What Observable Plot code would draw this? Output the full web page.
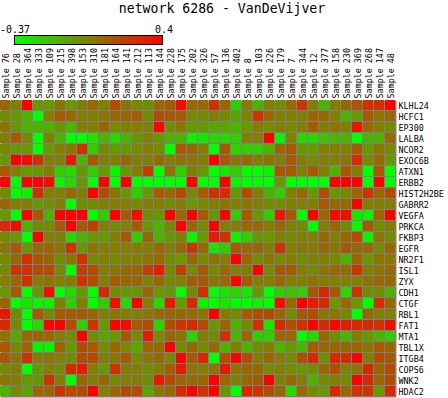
<!DOCTYPE html>
<html><head><meta charset="utf-8">
<script src="https://cdn.jsdelivr.net/npm/d3@7"></script>
<script src="https://cdn.jsdelivr.net/npm/@observablehq/plot@0.6"></script>
<style>body{margin:0;background:#fff} #chart{width:448px;height:398px}</style>
</head><body><div id="chart"></div>
<script>
const title = "network 6286 - VanDeVijver";
const colorMin = -0.37, colorMax = 0.4;
const samples = ["Sample 76","Sample 28","Sample 364","Sample 333","Sample 109","Sample 215","Sample 398","Sample 153","Sample 310","Sample 181","Sample 164","Sample 141","Sample 212","Sample 113","Sample 144","Sample 228","Sample 175","Sample 202","Sample 326","Sample 57","Sample 136","Sample 402","Sample 8","Sample 103","Sample 226","Sample 179","Sample 7","Sample 344","Sample 12","Sample 377","Sample 158","Sample 230","Sample 369","Sample 268","Sample 147","Sample 48"];
const genes = ["KLHL24","HCFC1","EP300","LALBA","NCOR2","EXOC6B","ATXN1","ERBB2","HIST2H2BE","GABRR2","VEGFA","PRKCA","FKBP3","EGFR","NR2F1","ISL1","ZYX","CDH1","CTGF","RBL1","FAT1","MTA1","TBL1X","ITGB4","COPS6","WNK2","HDAC2"];

const KLHL24 = [0.09,0.02,0.40,-0.06,-0.06,0.05,-0.06,0.02,0.09,0.02,0.17,0.05,-0.02,-0.02,0.09,0.13,0.36,0.09,0.09,0.25,0.09,-0.22,0.02,-0.14,0.02,-0.02,0.09,0.25,0.02,-0.14,0.02,0.09,0.13,0.25,0.25,0.40];
const HCFC1 = [-0.02,-0.06,-0.14,-0.37,0.02,0.13,0.09,0.02,0.02,0.05,0.09,0.09,0.13,-0.02,0.17,0.13,0.13,-0.02,-0.02,0.02,-0.02,-0.10,0.02,0.25,0.09,0.02,0.02,0.02,0.09,0.09,0.02,-0.14,-0.06,0.13,0.05,0.09];
const EP300 = [0.05,-0.06,-0.14,-0.14,-0.14,-0.06,-0.14,0.02,0.02,0.09,-0.02,0.02,0.02,0.02,0.40,-0.02,0.05,-0.06,-0.06,-0.10,-0.10,-0.14,-0.06,0.02,-0.02,0.02,-0.02,0.02,0.13,0.02,0.05,0.02,0.32,0.09,0.02,-0.02];
const LALBA = [0.02,0.13,-0.02,-0.37,0.02,-0.14,-0.37,-0.37,-0.29,-0.14,-0.25,-0.14,-0.06,0.02,-0.06,-0.14,-0.14,-0.33,-0.29,-0.25,-0.25,-0.22,0.02,0.02,0.40,-0.33,0.02,-0.25,-0.25,-0.18,-0.14,-0.14,-0.37,-0.14,-0.14,0.09];
const NCOR2 = [-0.02,-0.06,-0.06,-0.37,-0.06,0.02,0.05,0.25,-0.22,-0.02,-0.06,-0.06,-0.02,0.02,-0.02,-0.37,0.13,0.09,0.02,-0.37,0.13,-0.25,-0.22,-0.22,-0.14,0.09,0.13,-0.06,-0.06,0.02,0.02,0.02,0.13,-0.06,0.05,-0.02];
const EXOC6B = [-0.06,0.40,0.36,0.25,0.02,0.02,0.32,-0.14,0.13,0.02,0.02,0.09,0.02,0.02,0.09,0.02,0.05,0.05,0.02,0.40,0.13,0.05,0.09,0.02,0.05,0.02,0.13,0.02,-0.02,0.02,0.02,0.05,0.28,-0.02,0.09,-0.06];
const ATXN1 = [0.13,0.02,-0.06,-0.06,0.02,-0.22,-0.25,-0.06,-0.22,-0.06,-0.33,-0.06,0.02,0.21,-0.37,0.05,-0.22,0.02,-0.06,-0.37,-0.29,-0.22,-0.37,-0.37,-0.33,0.13,0.13,0.02,0.13,0.02,-0.14,0.13,0.02,-0.37,0.13,-0.37];
const ERBB2 = [0.40,-0.37,0.40,0.40,0.36,-0.33,-0.25,-0.06,-0.37,0.40,-0.37,0.40,-0.37,-0.37,-0.37,-0.37,-0.37,0.40,-0.37,-0.37,0.40,-0.33,-0.37,-0.37,-0.37,-0.06,-0.37,-0.37,-0.37,-0.37,0.40,0.40,0.40,-0.37,0.40,-0.37];
const HIST2H2BE = [-0.02,-0.37,-0.33,0.25,0.02,0.02,0.09,0.02,0.40,0.17,0.05,-0.06,-0.22,-0.06,0.13,0.09,0.17,-0.02,0.13,0.25,0.28,-0.06,0.17,0.02,-0.14,-0.22,0.02,0.09,-0.06,0.17,-0.06,-0.02,0.09,0.25,0.09,0.17];
const GABRR2 = [0.09,0.02,0.02,-0.06,-0.02,0.02,-0.37,-0.02,-0.02,0.02,0.02,0.02,-0.02,0.02,0.02,-0.02,0.02,-0.06,-0.02,0.02,0.05,0.02,0.05,0.02,-0.02,-0.02,0.02,0.02,0.02,0.13,0.09,0.09,0.40,0.02,0.02,0.02];
const VEGFA = [-0.06,-0.37,0.40,0.13,-0.14,0.40,0.40,0.40,-0.37,-0.22,0.40,0.13,0.36,-0.02,-0.06,0.40,0.09,0.40,0.13,-0.06,0.40,-0.22,0.13,-0.06,-0.22,0.32,0.13,-0.37,0.40,0.09,0.36,0.36,-0.29,-0.33,0.09,0.40];
const PRKCA = [0.28,0.36,-0.14,-0.02,-0.02,0.13,0.40,0.13,0.21,0.02,-0.02,0.02,0.13,-0.06,-0.14,-0.02,0.40,0.09,-0.02,0.40,0.02,0.02,0.09,0.09,0.02,0.09,0.02,-0.02,-0.37,0.02,0.09,-0.02,-0.33,0.13,-0.02,0.02];
const FKBP3 = [-0.02,-0.06,-0.37,0.40,0.02,0.02,-0.25,-0.14,-0.06,-0.06,0.02,0.13,-0.22,0.09,-0.14,-0.06,0.02,-0.33,-0.06,0.32,0.25,-0.33,-0.22,-0.06,-0.06,0.02,-0.02,0.02,0.02,0.09,0.02,0.09,0.17,-0.33,0.05,-0.02];
const EGFR = [0.05,0.13,-0.06,0.09,0.09,0.05,0.25,-0.06,0.05,0.02,0.02,0.02,0.02,0.02,0.09,0.02,0.09,0.25,0.09,-0.29,-0.22,0.13,0.09,0.09,0.02,0.25,0.02,0.05,0.02,0.09,0.05,0.13,0.09,0.09,-0.02,0.09];
const NR2F1 = [-0.02,0.09,0.25,0.13,0.09,-0.02,0.05,0.25,-0.02,0.02,-0.02,0.02,0.02,0.05,0.09,-0.02,-0.06,0.09,-0.02,0.05,0.02,0.40,0.09,-0.02,0.05,-0.02,0.02,-0.02,0.02,0.02,-0.02,-0.14,0.09,-0.06,0.05,0.05];
const ISL1 = [-0.02,0.25,0.25,0.17,0.17,-0.02,-0.37,0.21,0.17,0.02,0.05,0.09,0.09,0.21,0.32,-0.02,0.21,-0.02,0.13,-0.02,0.09,0.02,0.02,0.40,-0.02,0.13,0.13,0.02,-0.02,0.05,0.09,0.09,0.25,0.02,0.05,0.09];
const ZYX = [0.02,0.09,0.25,0.02,0.05,0.02,0.02,0.25,0.17,0.02,0.13,0.09,0.09,0.02,0.09,-0.02,0.02,0.13,0.13,0.05,0.09,0.40,0.13,0.02,0.02,0.09,0.02,0.02,0.05,0.02,0.02,0.02,0.02,0.05,0.09,0.09];
const CDH1 = [-0.06,0.13,-0.37,-0.06,0.36,-0.37,-0.25,-0.06,-0.37,0.28,-0.02,-0.06,-0.06,0.09,-0.06,-0.06,-0.37,-0.02,0.25,-0.37,-0.29,-0.25,-0.29,-0.06,-0.37,-0.22,-0.18,-0.22,0.13,0.28,0.13,-0.25,0.25,-0.02,-0.02,-0.14];
const CTGF = [0.09,-0.37,-0.29,-0.33,-0.33,0.02,-0.22,0.02,-0.37,-0.22,0.36,-0.25,0.40,0.02,-0.25,0.32,-0.06,0.28,-0.33,-0.37,-0.29,-0.37,-0.37,-0.33,-0.37,0.36,0.09,0.40,0.32,0.28,-0.06,0.09,-0.06,-0.37,0.25,0.09];
const RBL1 = [0.32,-0.02,-0.37,0.13,-0.02,0.13,0.13,0.13,0.09,0.02,0.05,0.02,0.02,0.05,0.09,0.09,0.09,0.09,0.05,0.40,0.02,-0.02,0.13,0.17,0.17,0.09,-0.02,0.13,0.17,0.05,0.05,-0.02,-0.37,0.09,0.02,0.02];
const FAT1 = [0.28,-0.02,-0.37,-0.25,0.40,0.40,0.17,-0.22,0.25,-0.06,0.40,0.36,0.13,0.17,-0.25,0.17,0.25,0.28,0.17,-0.06,0.09,-0.14,-0.02,0.25,-0.29,0.28,0.17,0.25,0.40,0.28,0.40,0.32,0.28,0.28,0.25,0.36];
const MTA1 = [0.05,-0.10,0.09,0.09,0.09,0.02,-0.02,0.40,-0.02,-0.10,-0.06,0.13,-0.02,0.32,-0.02,0.09,0.05,-0.25,0.02,-0.02,0.25,-0.14,0.09,-0.22,-0.22,0.09,0.09,-0.37,-0.25,0.09,-0.02,-0.14,0.02,-0.06,-0.14,-0.22];
const TBL1X = [0.13,-0.02,0.09,-0.33,-0.33,0.09,-0.06,0.17,0.13,-0.02,0.09,-0.02,-0.10,0.09,0.09,0.40,-0.02,0.09,-0.02,0.09,-0.14,0.02,-0.14,-0.02,0.02,-0.14,-0.06,-0.14,0.13,0.09,0.09,0.09,0.09,0.05,0.13,0.09];
const ITGB4 = [0.13,0.05,0.25,0.02,0.05,0.02,-0.02,0.17,0.17,0.02,0.05,0.13,-0.02,0.05,0.09,-0.02,0.40,0.13,0.28,-0.37,0.17,0.40,0.17,0.02,0.09,0.02,-0.02,0.17,0.28,-0.02,0.28,0.28,0.40,0.02,0.17,0.13];
const COPS6 = [-0.02,0.02,-0.37,-0.06,0.02,-0.02,0.28,0.32,0.02,-0.06,0.25,0.02,0.02,-0.02,0.02,0.13,0.32,0.05,0.02,0.05,0.32,0.05,0.09,0.09,-0.02,0.02,-0.02,-0.06,-0.02,0.09,0.17,0.02,0.05,0.28,0.09,0.17];
const WNK2 = [0.05,0.02,-0.06,-0.06,0.25,0.02,-0.37,0.09,0.02,0.09,-0.02,0.02,0.02,-0.02,0.32,0.17,0.09,0.09,0.09,0.40,0.09,0.02,0.09,0.13,0.40,0.02,0.09,0.02,-0.14,-0.02,0.02,-0.02,0.40,0.28,0.09,0.17];
const HDAC2 = [-0.14,-0.02,-0.10,0.09,0.09,0.25,0.17,0.17,0.40,0.02,0.09,0.17,0.17,-0.10,0.05,0.09,0.28,0.40,0.25,0.40,-0.06,-0.37,0.28,0.25,0.17,0.09,-0.25,0.09,-0.02,-0.06,0.28,0.09,0.25,0.25,-0.06,0.28];

const rows = [KLHL24,HCFC1,EP300,LALBA,NCOR2,EXOC6B,ATXN1,ERBB2,HIST2H2BE,GABRR2,VEGFA,PRKCA,FKBP3,EGFR,NR2F1,ISL1,ZYX,CDH1,CTGF,RBL1,FAT1,MTA1,TBL1X,ITGB4,COPS6,WNK2,HDAC2];

const data = [];
genes.forEach((g, i) => rows[i].forEach((v, j) => data.push({gene: g, sample: samples[j], value: v})));

const lowColor = "#00ff00", highColor = "#ff0000";

const chart = Plot.plot({
  width: 448, height: 398,
  marginTop: 100, marginBottom: 1, marginLeft: 0, marginRight: 52,
  style: {fontFamily: "'DejaVu Sans Mono', monospace", fontSize: "8.4px", background: "#fff", color: "#000"},
  x: {type: "band", domain: samples, padding: 0, round: false, label: null},
  y: {type: "band", domain: genes, padding: 0, round: false, label: null},
  color: {type: "linear", domain: [colorMin, colorMax], range: [lowColor, highColor], interpolate: "rgb", clamp: true},
  marks: [
    Plot.frame({fill: "#808080", stroke: null}),
    Plot.cell(data, {x: "sample", y: "gene", fill: "value", insetLeft: 0, insetTop: 0, insetRight: 1, insetBottom: 1}),
    Plot.axisX({anchor: "top", tickRotate: -90, tickSize: 0, tickPadding: 2, label: null}),
    Plot.axisY({anchor: "right", tickSize: 0, tickPadding: 2, label: null})
  ]
});

const svg = d3.select(chart);
svg.append("text")
  .attr("x", 222).attr("y", 13)
  .attr("text-anchor", "middle")
  .style("font-size", "13.2px")
  .style("font-family", "'DejaVu Sans Mono', monospace")
  .attr("fill", "#000")
  .text(title);

const grad = svg.append("defs").append("linearGradient").attr("id", "cbarGrad");
grad.append("stop").attr("offset", "0%").attr("stop-color", lowColor);
grad.append("stop").attr("offset", "100%").attr("stop-color", highColor);

const bar = {x: 14, y: 35, w: 148, h: 9};
svg.append("rect")
  .attr("x", bar.x + 0.5).attr("y", bar.y + 0.5)
  .attr("width", bar.w).attr("height", bar.h)
  .attr("fill", "url(#cbarGrad)")
  .attr("stroke", "#000").attr("stroke-width", 1);
svg.append("text")
  .attr("x", bar.x + 1).attr("y", 33)
  .attr("text-anchor", "middle")
  .style("font-size", "10px")
  .style("font-family", "'DejaVu Sans Mono', monospace")
  .text(String(colorMin));
svg.append("text")
  .attr("x", bar.x + bar.w + 2).attr("y", 33)
  .attr("text-anchor", "middle")
  .style("font-size", "10px")
  .style("font-family", "'DejaVu Sans Mono', monospace")
  .text(String(colorMax));

document.getElementById("chart").appendChild(chart);
</script>
</body></html>
